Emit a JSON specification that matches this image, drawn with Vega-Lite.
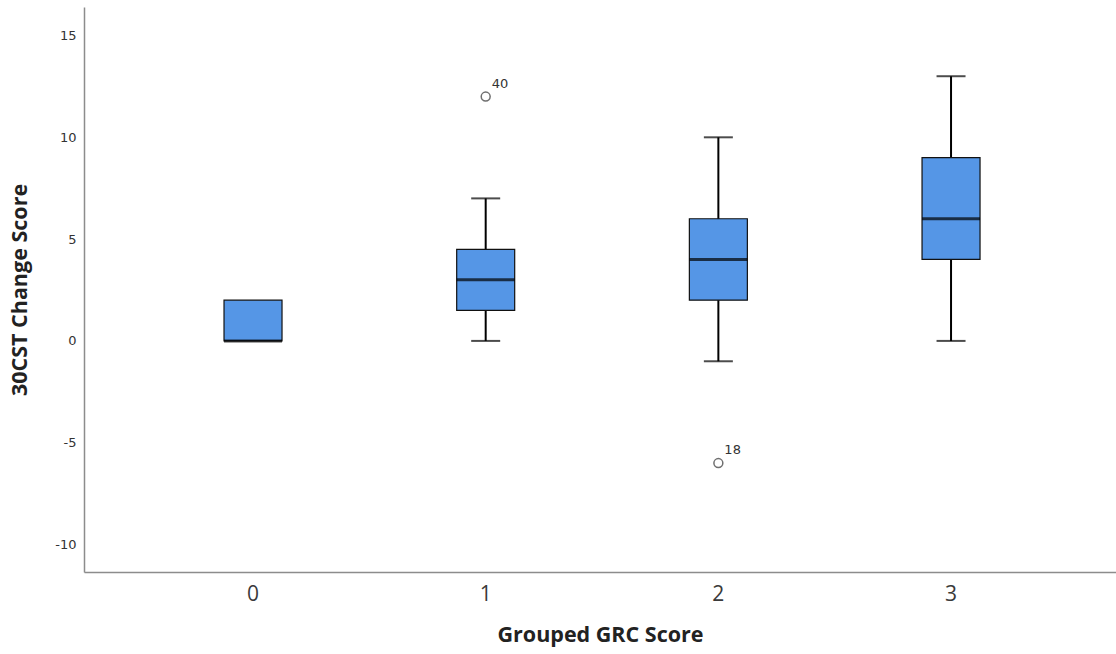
{
  "$schema": "https://vega.github.io/schema/vega-lite/v6.json",
  "width": 1032,
  "height": 565,
  "autosize": {"type": "none"},
  "padding": {"left": 84, "top": 7, "right": 0, "bottom": 82},
  "background": "white",
  "config": {
    "view": {"stroke": null},
    "axis": {
      "grid": false,
      "ticks": false,
      "domainColor": "#8c8c8c",
      "domainWidth": 1.5,
      "labelColor": "#333333",
      "titleColor": "#222222",
      "titleFont": "Open Sans",
      "titleFontWeight": "bold",
      "titleFontSize": 21.5,
      "labelFont": "DejaVu Sans"
    }
  },
  "datasets": {
    "boxes": [
      {"g": "0", "lo": 0, "q1": 0, "med": 0, "q3": 2, "hi": 2},
      {"g": "1", "lo": 0, "q1": 1.5, "med": 3, "q3": 4.5, "hi": 7},
      {"g": "2", "lo": -1, "q1": 2, "med": 4, "q3": 6, "hi": 10},
      {"g": "3", "lo": 0, "q1": 4, "med": 6, "q3": 9, "hi": 13}
    ],
    "outliers": [
      {"g": "1", "v": 12, "id": "40"},
      {"g": "2", "v": -6, "id": "18"}
    ]
  },
  "encoding": {
    "x": {
      "field": "g",
      "type": "nominal",
      "sort": ["0", "1", "2", "3"],
      "scale": {"type": "band", "paddingInner": 0, "paddingOuter": 0.2177, "align": 0.52},
      "axis": {
        "title": "Grouped GRC Score",
        "labelAngle": 0,
        "labelFontSize": 21,
        "labelFont": "Open Sans",
        "labelColor": "#3a3a3a",
        "labelPadding": 11,
        "titlePadding": 20
      }
    }
  },
  "layer": [
    {
      "data": {"name": "boxes"},
      "transform": [{"filter": "datum.lo < datum.q1 || datum.hi > datum.q3"}],
      "mark": {"type": "rule", "color": "black", "strokeWidth": 2},
      "encoding": {
        "y": {
          "field": "lo",
          "type": "quantitative",
          "scale": {"domain": [-11.35, 16.4], "nice": false, "zero": false},
          "axis": {
            "title": "30CST Change Score",
            "values": [-10, -5, 0, 5, 10, 15],
            "labelExpr": "toString(datum.value)",
            "labelFontSize": 13,
            "labelPadding": 8,
            "titlePadding": 23
          }
        },
        "y2": {"field": "hi"}
      }
    },
    {
      "data": {"name": "boxes"},
      "transform": [{"filter": "datum.lo < datum.q1"}],
      "mark": {"type": "tick", "orient": "horizontal", "color": "black", "size": 29, "thickness": 2},
      "encoding": {"y": {"field": "lo", "type": "quantitative"}}
    },
    {
      "data": {"name": "boxes"},
      "transform": [{"filter": "datum.hi > datum.q3"}],
      "mark": {"type": "tick", "orient": "horizontal", "color": "black", "size": 29, "thickness": 2},
      "encoding": {"y": {"field": "hi", "type": "quantitative"}}
    },
    {
      "data": {"name": "boxes"},
      "mark": {"type": "bar", "fill": "#5596e6", "stroke": "#111111", "strokeWidth": 1.2, "size": 58},
      "encoding": {
        "y": {"field": "q1", "type": "quantitative"},
        "y2": {"field": "q3"}
      }
    },
    {
      "data": {"name": "boxes"},
      "mark": {"type": "tick", "orient": "horizontal", "color": "black", "size": 58, "thickness": 3},
      "encoding": {"y": {"field": "med", "type": "quantitative"}}
    },
    {
      "data": {"name": "outliers"},
      "mark": {"type": "point", "shape": "circle", "filled": false, "stroke": "#333333", "strokeWidth": 1.5, "size": 80},
      "encoding": {"y": {"field": "v", "type": "quantitative"}}
    },
    {
      "data": {"name": "outliers"},
      "mark": {"type": "text", "align": "left", "baseline": "alphabetic", "dx": 6, "dy": -9, "fontSize": 13, "font": "DejaVu Sans", "color": "#333333"},
      "encoding": {
        "y": {"field": "v", "type": "quantitative"},
        "text": {"field": "id"}
      }
    }
  ]
}
